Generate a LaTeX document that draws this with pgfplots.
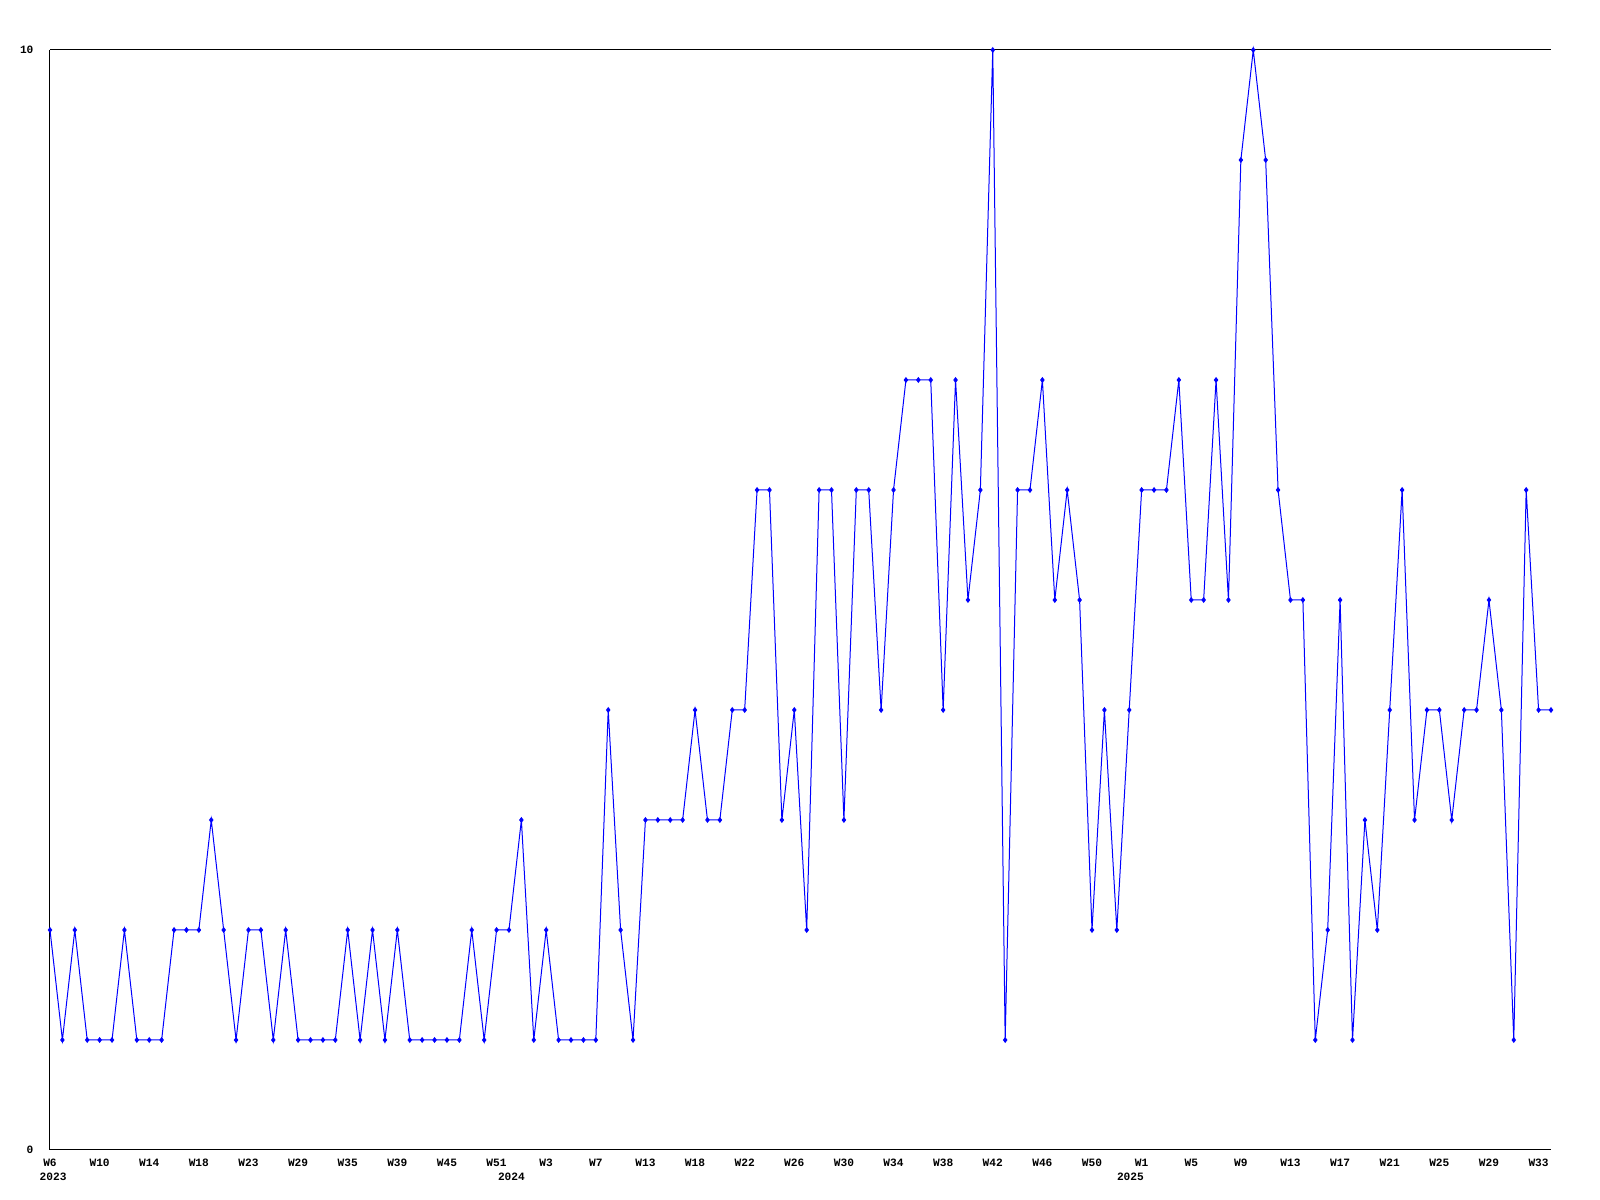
\documentclass[border=0pt]{standalone}
\usepackage{fontspec}
\setmonofont{Liberation Mono}
\usepackage{pgfplots}
\pgfplotsset{compat=1.18}

\newcommand{\lbl}{\fontsize{2.8}{3.3}\selectfont\ttfamily\bfseries}

\begin{document}
\begin{tikzpicture}
\path[use as bounding box] (-12.5pt,-12.5pt) rectangle (387.5pt,287.5pt);
\begin{axis}[
    at={(0,0)}, anchor=south west,
    scale only axis,
    width=375.25pt, height=275pt,
    xmin=0, xmax=121, ymin=0, ymax=10,
    axis line style={draw=none},
    major tick length=0pt,
    xtick={0,4,...,120},
    xticklabels={W6,W10,W14,W18,W23,W29,W35,W39,W45,W51,W3,W7,W13,W18,W22,W26,W30,W34,W38,W42,W46,W50,W1,W5,W9,W13,W17,W21,W25,W29,W33},
    ytick={0,10}, yticklabels={0,10},
    xticklabel style={font=\lbl, anchor=north, yshift=1.3pt},
    yticklabel style={font=\lbl, anchor=east, xshift=-0.6pt},
    clip=false,
]
\addplot[color={rgb,255:red,0;green,0;blue,255}, line width=0.25pt, mark=diamond*, mark size=0.55pt] coordinates {
(0,2) (1,1) (2,2) (3,1) (4,1) (5,1) (6,2) (7,1) (8,1) (9,1)
(10,2) (11,2) (12,2) (13,3) (14,2) (15,1) (16,2) (17,2) (18,1) (19,2)
(20,1) (21,1) (22,1) (23,1) (24,2) (25,1) (26,2) (27,1) (28,2) (29,1)
(30,1) (31,1) (32,1) (33,1) (34,2) (35,1) (36,2) (37,2) (38,3) (39,1)
(40,2) (41,1) (42,1) (43,1) (44,1) (45,4) (46,2) (47,1) (48,3) (49,3)
(50,3) (51,3) (52,4) (53,3) (54,3) (55,4) (56,4) (57,6) (58,6) (59,3)
(60,4) (61,2) (62,6) (63,6) (64,3) (65,6) (66,6) (67,4) (68,6) (69,7)
(70,7) (71,7) (72,4) (73,7) (74,5) (75,6) (76,10) (77,1) (78,6) (79,6)
(80,7) (81,5) (82,6) (83,5) (84,2) (85,4) (86,2) (87,4) (88,6) (89,6)
(90,6) (91,7) (92,5) (93,5) (94,7) (95,5) (96,9) (97,10) (98,9) (99,6)
(100,5) (101,5) (102,1) (103,2) (104,5) (105,1) (106,3) (107,2) (108,4) (109,6)
(110,3) (111,4) (112,4) (113,3) (114,4) (115,4) (116,5) (117,4) (118,1) (119,6)
(120,4) (121,4)
};
\draw[line width=0.25pt] (rel axis cs:0,1) -- (rel axis cs:0,0) -- (rel axis cs:1,0);
\draw[line width=0.25pt] (rel axis cs:0,1) -- (rel axis cs:1,1);
\node[font=\lbl, yshift=-6.75pt] at (axis cs:0.25,0) {2023};
\node[font=\lbl, yshift=-6.75pt] at (axis cs:37.2,0) {2024};
\node[font=\lbl, yshift=-6.75pt] at (axis cs:87.1,0) {2025};
\end{axis}
\end{tikzpicture}
\end{document}
